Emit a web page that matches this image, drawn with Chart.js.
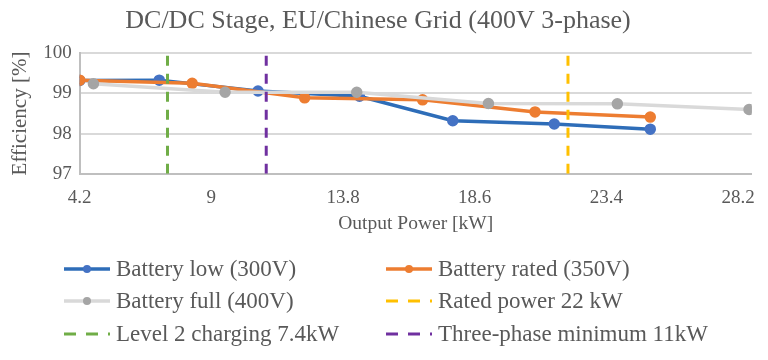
<!DOCTYPE html>
<html>
<head>
<meta charset="utf-8">
<script src="https://cdn.jsdelivr.net/npm/chart.js@4.4.1/dist/chart.umd.min.js"></script>
<style>
  html, body { margin: 0; padding: 0; background: #fff; }
  #wrap { width: 768px; height: 360px; }
</style>
</head>
<body>
<div id="wrap"><canvas id="chart" width="768" height="360"></canvas></div>
<script>
// values
const lowX = [4.2, 7.1, 10.7, 14.4, 17.8, 21.5, 25.0];
const lowY = [99.32, 99.33, 99.06, 98.93, 98.32, 98.24, 98.11];
const ratedX = [4.2, 8.3, 12.4, 16.7, 20.8, 25.0];
const ratedY = [99.33, 99.25, 98.89, 98.84, 98.54, 98.41];
const fullX = [4.7, 9.5, 14.3, 19.1, 23.8, 28.6];
const fullY = [99.24, 99.03, 99.03, 98.75, 98.74, 98.60];
const markerLines = [
  { label: "Rated power 22 kW", x: 22, color: "#FFC000" },
  { label: "Level 2 charging 7.4kW", x: 7.4, color: "#70AD47" },
  { label: "Three-phase minimum 11kW", x: 11, color: "#7030A0" }
];
const xTicks = [4.2, 9, 13.8, 18.6, 23.4, 28.2];
const yTicks = [97, 98, 99, 100];

const serif = "'Liberation Serif', 'Times New Roman', serif";
const textColor = "#595959";

function pts(xs, ys) {
  return xs.map((x, i) => ({ x: x, y: ys[i] }));
}

function seriesSet(label, xs, ys, line, dot) {
  return {
    label: label,
    data: pts(xs, ys),
    borderColor: line,
    backgroundColor: dot,
    pointBackgroundColor: dot,
    pointBorderColor: dot,
    borderWidth: 3.5,
    pointRadius: 4,
    tension: 0,
    showLine: true
  };
}

function vline(m) {
  return {
    label: m.label,
    data: [{ x: m.x, y: 97 }, { x: m.x, y: 100 }],
    borderColor: m.color,
    backgroundColor: m.color,
    borderWidth: 3,
    borderDash: [10, 8],
    pointRadius: 0,
    showLine: true
  };
}

const datasets = [
  vline(markerLines[1]),
  vline(markerLines[2]),
  vline(markerLines[0]),
  seriesSet("Battery full (400V)", fullX, fullY, "#D9D9D9", "#A5A5A5"),
  seriesSet("Battery rated (350V)", ratedX, ratedY, "#ED7D31", "#ED7D31"),
  seriesSet("Battery low (300V)", lowX, lowY, "#2E6DB8", "#4472C4")
];

// legend order as in the picture, two columns
const legendOrder = [
  "Battery low (300V)", "Battery rated (350V)",
  "Battery full (400V)", "Rated power 22 kW",
  "Level 2 charging 7.4kW", "Three-phase minimum 11kW"
];

const legendPlugin = {
  id: "twoColLegend",
  afterDraw(chart) {
    const ctx = chart.ctx;
    const colX = [64, 386];
    const rowY = [269, 301, 334];
    ctx.save();
    ctx.font = "23px " + serif;
    ctx.textBaseline = "middle";
    legendOrder.forEach((name, i) => {
      const ds = chart.data.datasets.find(d => d.label === name);
      const x0 = colX[i % 2];
      const y = rowY[Math.floor(i / 2)];
      ctx.strokeStyle = ds.borderColor;
      ctx.lineWidth = ds.borderWidth;
      ctx.setLineDash(ds.borderDash ? [12, 10] : []);
      ctx.beginPath();
      ctx.moveTo(x0, y);
      ctx.lineTo(x0 + 46, y);
      ctx.stroke();
      ctx.setLineDash([]);
      if (ds.pointRadius) {
        ctx.fillStyle = ds.pointBackgroundColor;
        ctx.beginPath();
        ctx.arc(x0 + 23, y, 4, 0, Math.PI * 2);
        ctx.fill();
      }
      ctx.fillStyle = textColor;
      ctx.fillText(name, x0 + 52, y + 1);
    });
    ctx.restore();
  }
};

new Chart(document.getElementById("chart"), {
  type: "scatter",
  data: { datasets: datasets },
  plugins: [legendPlugin],
  options: {
    responsive: false,
    animation: false,
    layout: { padding: { left: 4, right: 16, top: 0, bottom: 124 } },
    plugins: {
      legend: { display: false },
      tooltip: { enabled: false },
      title: {
        display: true,
        text: "DC/DC Stage, EU/Chinese Grid (400V 3-phase)",
        color: textColor,
        font: { family: serif, size: 26, weight: "normal" },
        padding: { top: 6, bottom: 16 }
      }
    },
    scales: {
      x: {
        type: "linear",
        min: 4.2,
        max: 28.7,
        afterBuildTicks: axis => { axis.ticks = xTicks.map(v => ({ value: v })); },
        ticks: {
          color: textColor,
          font: { family: serif, size: 19 },
          maxRotation: 0,
          padding: 13,
          callback: v => String(v)
        },
        grid: { display: false, drawTicks: false },
        border: { color: "#BFBFBF", width: 2 },
        title: {
          display: true,
          text: "Output Power [kW]",
          color: textColor,
          font: { family: serif, size: 19.5 },
          padding: { top: -10, bottom: 0 }
        }
      },
      y: {
        min: 97,
        max: 100,
        afterBuildTicks: axis => { axis.ticks = yTicks.map(v => ({ value: v })); },
        ticks: {
          color: textColor,
          font: { family: serif, size: 19 },
          padding: 8
        },
        grid: { color: "#D9D9D9", lineWidth: 2, drawTicks: false },
        border: { color: "#BFBFBF", width: 2 },
        title: {
          display: true,
          text: "Efficiency [%]",
          color: textColor,
          font: { family: serif, size: 21 },
          padding: { bottom: 2 }
        }
      }
    }
  }
});
</script>
</body>
</html>
